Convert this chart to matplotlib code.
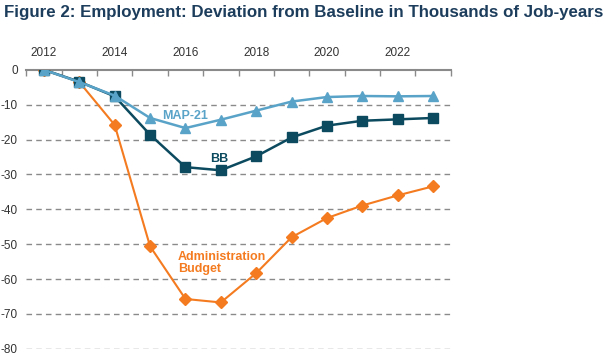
import numpy as np
import matplotlib.pyplot as plt

plt.rcParams['font.family'] = ['Liberation Sans', 'DejaVu Sans']

years = np.arange(2012, 2024)
map21 = [0, -3.5, -7.4, -13.8, -16.7, -14.3, -11.7, -9.1, -7.8, -7.5, -7.6, -7.5]
bb = [0, -3.4, -7.6, -18.6, -27.9, -28.8, -24.8, -19.4, -16.0, -14.6, -14.2, -13.8]
admin = [0, -3.5, -15.8, -50.6, -65.7, -66.7, -58.3, -48.0, -42.5, -38.9, -36.0, -33.4]

year_labels = [2012, 2014, 2016, 2018, 2020, 2022]
y_ticks = [0, -10, -20, -30, -40, -50, -60, -70, -80]

c_map = '#5aa3c8'
c_bb = '#0b4a5f'
c_adm = '#f47b20'
c_grid = '#8a8a8a'

fig = plt.figure(figsize=(6.1, 3.6), dpi=100)
ax = fig.add_axes([0.043, 0.031, 0.696, 0.775])

# horizontal dashed grid
for v in y_ticks[1:]:
    ax.axhline(v, color=c_grid, lw=1, ls=(0, (4, 3)), zorder=1)

ax.plot(years, admin, color=c_adm, marker='D', ms=6, lw=1.5, zorder=3)
ax.plot(years, bb, color=c_bb, marker='s', ms=6.5, lw=1.8, zorder=4)
ax.plot(years, map21, color=c_map, marker='^', ms=7.5, lw=1.8, zorder=5)

ax.text(2015.35, -14.0, 'MAP-21', color=c_map, fontsize=9, fontweight='bold')
ax.text(2016.7, -26.4, 'BB', color=c_bb, fontsize=9, fontweight='bold')
ax.text(2015.78, -58.0, 'Administration\nBudget', color=c_adm, fontsize=9,
        fontweight='bold', linespacing=1.05)

ax.set_xlim(2011.5, 2023.5)
ax.set_ylim(-80, 0)

ax.xaxis.tick_top()
ax.set_xticks(year_labels)
ax.set_xticklabels([str(y) for y in year_labels])
ax.set_xticks(np.arange(2011.5, 2024, 1), minor=True)
ax.tick_params(axis='x', which='major', length=0, pad=8, labelsize=8.5, labelcolor='#333333')
ax.tick_params(axis='x', which='minor', direction='in', length=4, color=c_grid, width=1)

ax.set_yticks(y_ticks)
ax.set_yticklabels([str(v) for v in y_ticks])
ax.tick_params(axis='y', length=0, pad=6, labelsize=8.5, labelcolor='#333333')

for s in ['left', 'right', 'bottom']:
    ax.spines[s].set_visible(False)
ax.spines['top'].set_color(c_grid)
ax.spines['top'].set_linewidth(1.5)

fig.text(0.006, 0.965, 'Figure 2: Employment: Deviation from Baseline in Thousands of Job-years',
         fontsize=12.2, fontweight='bold', color='#1d3d5c', va='center', ha='left')

fig.savefig('out.png', dpi=100)
